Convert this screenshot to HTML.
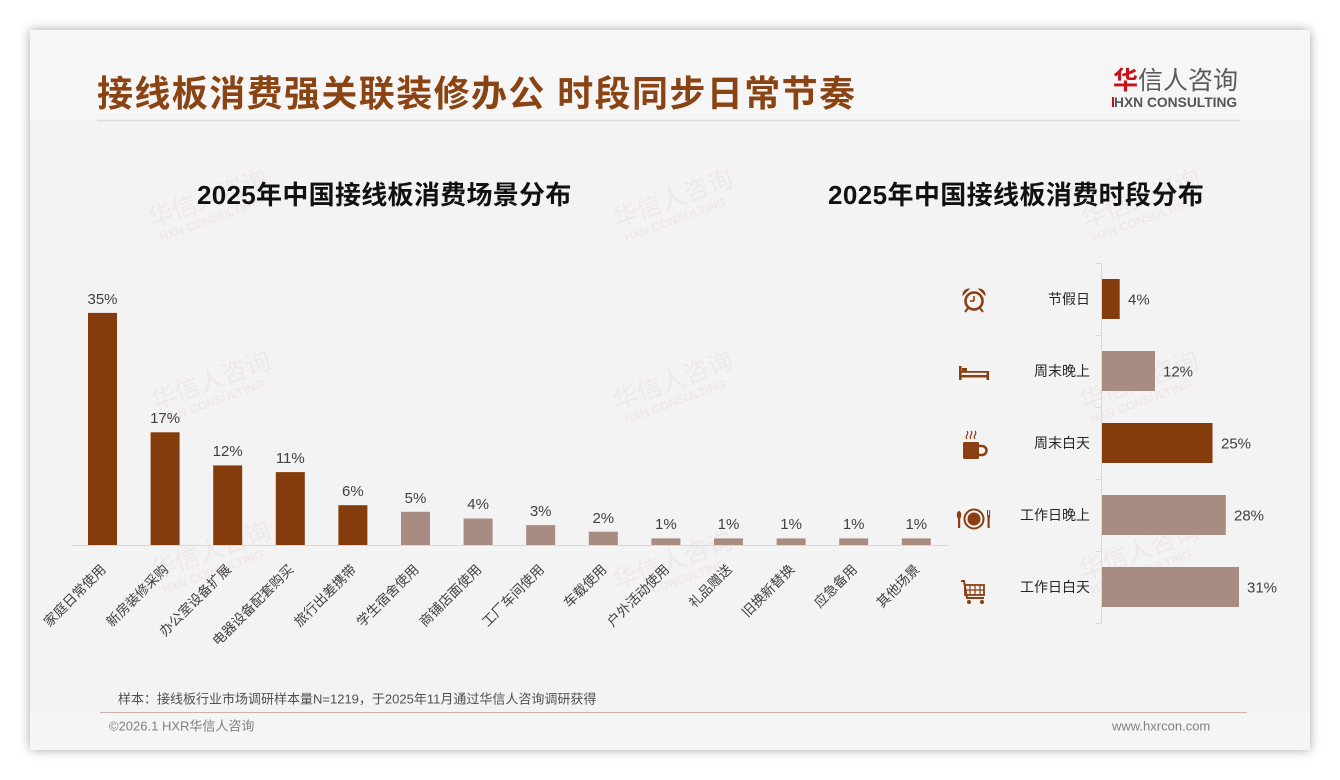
<!DOCTYPE html>
<html><head><meta charset="utf-8">
<style>
html,body{margin:0;padding:0;background:#ffffff;}
body{width:1340px;height:780px;overflow:hidden;position:relative;font-family:"Liberation Sans","Noto Sans CJK SC",sans-serif;}
.slide{position:absolute;left:30px;top:30px;width:1280px;height:720px;background:#f3f3f3;box-shadow:0 0 10px rgba(0,0,0,0.35);}
svg{position:absolute;left:0;top:0;}
</style></head>
<body>
<div class="slide"></div>
<svg width="1340" height="780" viewBox="0 0 1340 780" xmlns="http://www.w3.org/2000/svg" font-family="Liberation Sans, Noto Sans CJK SC, sans-serif">
  <!-- header / footer bands -->
  <rect x="30" y="30" width="1280" height="90" fill="#f6f6f6"/>
  <rect x="30" y="712" width="1280" height="38" fill="#f5f5f5"/>
  <!-- title -->
  <text x="97" y="106" font-size="36" font-weight="bold" fill="#8a4312" letter-spacing="1.4" font-family="Liberation Sans, Noto Sans CJK SC, sans-serif">接线板消费强关联装修办公 时段同步日常节奏</text>
  <line x1="97" y1="120.5" x2="1240" y2="120.5" stroke="#dcdcdc" stroke-width="1.5"/>
  <!-- logo -->
  <text x="1113" y="89" font-size="25" fill="#5a5a5a" font-family="Noto Sans CJK SC, sans-serif"><tspan fill="#c8101a" font-weight="bold">华</tspan>信人咨询</text>
  <text x="1114" y="107" font-size="13.8" font-weight="bold" fill="#555555">HXN CONSULTING</text>
  <rect x="1112" y="97" width="2" height="10" fill="#c8101a"/>

  <!-- watermarks -->
  <g fill="#e9c9c9" opacity="0.28" font-family="Noto Sans CJK SC, sans-serif">
    <g transform="translate(152,228) rotate(-20)"><text font-size="25">华信人咨询</text><text x="4" y="16" font-size="12" font-weight="bold" font-family="Liberation Sans, sans-serif">HXN CONSULTING</text></g>
    <g transform="translate(617,228) rotate(-20)"><text font-size="25">华信人咨询</text><text x="4" y="16" font-size="12" font-weight="bold" font-family="Liberation Sans, sans-serif">HXN CONSULTING</text></g>
    <g transform="translate(1085,228) rotate(-20)"><text font-size="25">华信人咨询</text><text x="4" y="16" font-size="12" font-weight="bold" font-family="Liberation Sans, sans-serif">HXN CONSULTING</text></g>
    <g transform="translate(155,410) rotate(-20)"><text font-size="25">华信人咨询</text><text x="4" y="16" font-size="12" font-weight="bold" font-family="Liberation Sans, sans-serif">HXN CONSULTING</text></g>
    <g transform="translate(617,410) rotate(-20)"><text font-size="25">华信人咨询</text><text x="4" y="16" font-size="12" font-weight="bold" font-family="Liberation Sans, sans-serif">HXN CONSULTING</text></g>
    <g transform="translate(1083,410) rotate(-20)"><text font-size="25">华信人咨询</text><text x="4" y="16" font-size="12" font-weight="bold" font-family="Liberation Sans, sans-serif">HXN CONSULTING</text></g>
    <g transform="translate(155,580) rotate(-20)"><text font-size="25">华信人咨询</text><text x="4" y="16" font-size="12" font-weight="bold" font-family="Liberation Sans, sans-serif">HXN CONSULTING</text></g>
    <g transform="translate(617,590) rotate(-20)"><text font-size="25">华信人咨询</text><text x="4" y="16" font-size="12" font-weight="bold" font-family="Liberation Sans, sans-serif">HXN CONSULTING</text></g>
    <g transform="translate(1083,580) rotate(-20)"><text font-size="25">华信人咨询</text><text x="4" y="16" font-size="12" font-weight="bold" font-family="Liberation Sans, sans-serif">HXN CONSULTING</text></g>
  </g>

  <!-- subtitles -->
  <text x="197" y="204" font-size="26" font-weight="bold" fill="#111111" letter-spacing="0.3">2025年中国接线板消费场景分布</text>
  <text x="828" y="204" font-size="26" font-weight="bold" fill="#111111" letter-spacing="0.4">2025年中国接线板消费时段分布</text>

  <!-- left chart bars -->
  <g>
    <rect x="88" y="312.9" width="29" height="232.1" fill="#843c0c"/>
    <rect x="150.6" y="432.3" width="29" height="112.7" fill="#843c0c"/>
    <rect x="213.2" y="465.4" width="29" height="79.6" fill="#843c0c"/>
    <rect x="275.8" y="472.1" width="29" height="72.9" fill="#843c0c"/>
    <rect x="338.4" y="505.2" width="29" height="39.8" fill="#843c0c"/>
    <rect x="401" y="511.8" width="29" height="33.2" fill="#a88c82"/>
    <rect x="463.6" y="518.5" width="29" height="26.5" fill="#a88c82"/>
    <rect x="526.2" y="525.1" width="29" height="19.9" fill="#a88c82"/>
    <rect x="588.8" y="531.7" width="29" height="13.3" fill="#a88c82"/>
    <rect x="651.4" y="538.4" width="29" height="6.6" fill="#a88c82"/>
    <rect x="714" y="538.4" width="29" height="6.6" fill="#a88c82"/>
    <rect x="776.6" y="538.4" width="29" height="6.6" fill="#a88c82"/>
    <rect x="839.2" y="538.4" width="29" height="6.6" fill="#a88c82"/>
    <rect x="901.8" y="538.4" width="29" height="6.6" fill="#a88c82"/>
  </g>
  <line x1="71" y1="545.5" x2="948" y2="545.5" stroke="#d9d9d9" stroke-width="1"/>
  <!-- value labels -->
  <g font-size="15" fill="#404040" text-anchor="middle">
    <text x="102.5" y="304">35%</text>
    <text x="165.1" y="423">17%</text>
    <text x="227.7" y="456">12%</text>
    <text x="290.3" y="463">11%</text>
    <text x="352.9" y="496">6%</text>
    <text x="415.5" y="503">5%</text>
    <text x="478.1" y="509">4%</text>
    <text x="540.7" y="516">3%</text>
    <text x="603.3" y="523">2%</text>
    <text x="665.9" y="529">1%</text>
    <text x="728.5" y="529">1%</text>
    <text x="791.1" y="529">1%</text>
    <text x="853.7" y="529">1%</text>
    <text x="916.3" y="529">1%</text>
  </g>
  <!-- category labels -->
  <g font-size="13.5" fill="#404040" text-anchor="end" dominant-baseline="central">
    <text transform="translate(103.5,567) rotate(-45)">家庭日常使用</text>
    <text transform="translate(166.1,567) rotate(-45)">新房装修采购</text>
    <text transform="translate(228.7,567) rotate(-45)">办公室设备扩展</text>
    <text transform="translate(291.3,567) rotate(-45)">电器设备配套购买</text>
    <text transform="translate(353.9,567) rotate(-45)">旅行出差携带</text>
    <text transform="translate(416.5,567) rotate(-45)">学生宿舍使用</text>
    <text transform="translate(479.1,567) rotate(-45)">商铺店面使用</text>
    <text transform="translate(541.7,567) rotate(-45)">工厂车间使用</text>
    <text transform="translate(604.3,567) rotate(-45)">车载使用</text>
    <text transform="translate(666.9,567) rotate(-45)">户外活动使用</text>
    <text transform="translate(729.5,567) rotate(-45)">礼品赠送</text>
    <text transform="translate(792.1,567) rotate(-45)">旧换新替换</text>
    <text transform="translate(854.7,567) rotate(-45)">应急备用</text>
    <text transform="translate(917.3,567) rotate(-45)">其他场景</text>
  </g>

  <!-- right chart -->
  <line x1="1101.5" y1="263" x2="1101.5" y2="623" stroke="#d9d9d9" stroke-width="1"/>
  <g stroke="#d9d9d9" stroke-width="1">
    <line x1="1096" y1="263.5" x2="1101" y2="263.5"/>
    <line x1="1096" y1="335.5" x2="1101" y2="335.5"/>
    <line x1="1096" y1="407.5" x2="1101" y2="407.5"/>
    <line x1="1096" y1="479.5" x2="1101" y2="479.5"/>
    <line x1="1096" y1="551.5" x2="1101" y2="551.5"/>
    <line x1="1096" y1="623.5" x2="1101" y2="623.5"/>
  </g>
  <rect x="1102" y="279" width="17.7" height="40" fill="#843c0c"/>
  <rect x="1102" y="351" width="53" height="40" fill="#a88c82"/>
  <rect x="1102" y="423" width="110.5" height="40" fill="#843c0c"/>
  <rect x="1102" y="495" width="123.8" height="40" fill="#a88c82"/>
  <rect x="1102" y="567" width="137" height="40" fill="#a88c82"/>
  <g font-size="14" fill="#262626" text-anchor="end">
    <text x="1090" y="304">节假日</text>
    <text x="1090" y="376">周末晚上</text>
    <text x="1090" y="448">周末白天</text>
    <text x="1090" y="520">工作日晚上</text>
    <text x="1090" y="592">工作日白天</text>
  </g>
  <g font-size="15" fill="#404040">
    <text x="1128" y="304.5">4%</text>
    <text x="1163" y="376.5">12%</text>
    <text x="1221" y="448.5">25%</text>
    <text x="1234" y="520.5">28%</text>
    <text x="1247" y="592.5">31%</text>
  </g>

  <!-- icons -->
  <g fill="#8b3e12" stroke="#8b3e12">
    <!-- alarm clock -->
    <g transform="translate(974,301)">
      <circle cx="0" cy="0" r="8.5" fill="none" stroke-width="2.6"/>
      <path d="M-11,-6 A6,6 0 0 1 -5,-12 Z" stroke-width="1"/>
      <path d="M11,-6 A6,6 0 0 0 5,-12 Z" stroke-width="1"/>
      <line x1="0" y1="-5" x2="0" y2="0" stroke-width="1.6"/>
      <line x1="0" y1="0" x2="-4" y2="0" stroke-width="1.6"/>
      <line x1="-6" y1="7" x2="-9" y2="11" stroke-width="2"/>
      <line x1="6" y1="7" x2="9" y2="11" stroke-width="2"/>
    </g>
    <!-- bed -->
    <g transform="translate(974,374)" stroke="none">
      <rect x="-15" y="-8" width="2.6" height="14"/>
      <rect x="12.5" y="-3" width="2.6" height="9"/>
      <rect x="-13" y="1" width="26" height="2.5"/>
      <rect x="-13" y="-3" width="26" height="1.8"/>
      <rect x="-12" y="-6" width="5" height="3"/>
    </g>
    <!-- mug -->
    <g transform="translate(972,447)">
      <rect x="-9" y="-5" width="16" height="17" rx="1.5" stroke="none"/>
      <path d="M7,-1 h3 a4,4 0 0 1 0,9 h-3" fill="none" stroke-width="2.5"/>
      <path d="M-5,-8 q-1.5,-2 0,-4 q1.5,-2 0,-4" fill="none" stroke-width="1.2"/>
      <path d="M-1,-8 q-1.5,-2 0,-4 q1.5,-2 0,-4" fill="none" stroke-width="1.2"/>
      <path d="M3,-8 q-1.5,-2 0,-4 q1.5,-2 0,-4" fill="none" stroke-width="1.2"/>
    </g>
    <!-- plate -->
    <g transform="translate(974,519)">
      <circle cx="0" cy="0" r="9.5" fill="none" stroke-width="2"/>
      <circle cx="0" cy="0" r="6.5" stroke="none"/>
      <rect x="-16" y="-1" width="2.2" height="10" stroke="none"/>
      <ellipse cx="-15" cy="-4" rx="2.2" ry="4" stroke="none"/>
      <rect x="13.5" y="-2" width="2.2" height="11" stroke="none"/>
      <path d="M13.5,-9 v6 M15.6,-9 v6" stroke-width="1" fill="none"/>
      <rect x="13.3" y="-4" width="2.6" height="3" stroke="none"/>
    </g>
    <!-- cart -->
    <g transform="translate(974,592)">
      <path d="M-13,-11 L-10,-11 L-7,6 L10,6" fill="none" stroke-width="2"/>
      <rect x="-9" y="-7" width="19" height="10" fill="none" stroke-width="1.8"/>
      <line x1="-9" y1="-2" x2="10" y2="-2" stroke-width="1.2"/>
      <line x1="-4" y1="-7" x2="-4" y2="3" stroke-width="1.2"/>
      <line x1="1" y1="-7" x2="1" y2="3" stroke-width="1.2"/>
      <line x1="6" y1="-7" x2="6" y2="3" stroke-width="1.2"/>
      <circle cx="-5" cy="10" r="2" stroke="none"/>
      <circle cx="8" cy="10" r="2" stroke="none"/>
    </g>
  </g>

  <!-- footer -->
  <text x="118" y="703.5" font-size="13" fill="#505050">样本：接线板行业市场调研样本量N=1219，于2025年11月通过华信人咨询调研获得</text>
  <line x1="100" y1="712.5" x2="1247" y2="712.5" stroke="#cfb2a4" stroke-width="1"/>
  <text x="109" y="730.5" font-size="13" fill="#808080">©2026.1 HXR华信人咨询</text>
  <text x="1112" y="730.5" font-size="13" fill="#808080">www.hxrcon.com</text>
</svg>
</body></html>
